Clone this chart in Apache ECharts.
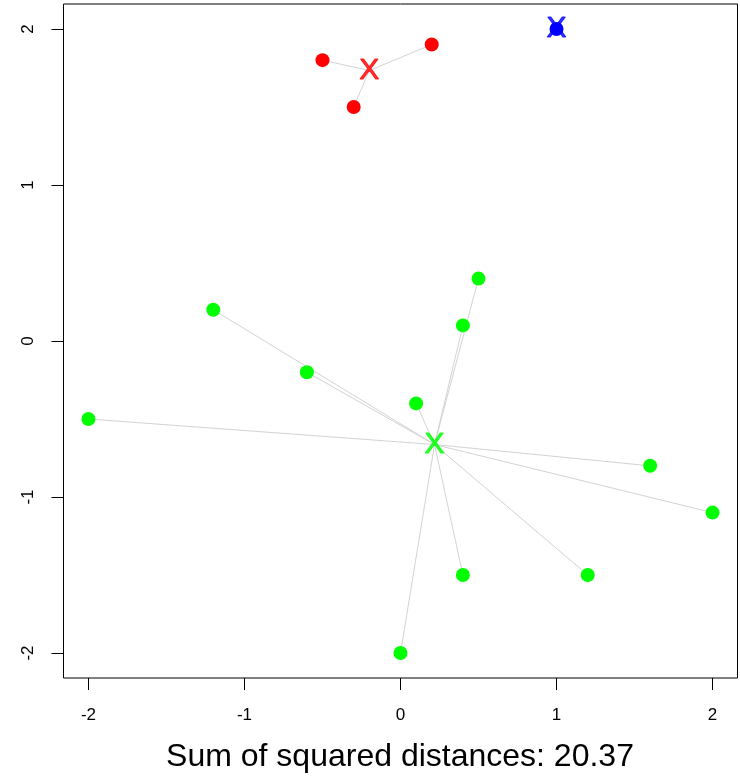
<!DOCTYPE html>
<html>
<head>
<meta charset="utf-8">
<script src="https://cdn.jsdelivr.net/npm/echarts@6/dist/echarts.min.js"></script>
<style>html,body{margin:0;padding:0;background:#fff}#c{width:740px;height:781px}</style>
</head>
<body>
<div id="c"></div>
<script>
// Cluster data
const redX = [-0.5, 0.2, -0.3];
const redY = [1.8, 1.9, 1.5];
const blueX = [1];
const blueY = [2];
const greenX = [-1.2, -0.6, -2, 0.1, 0.5, 0.4, 1.6, 2, 0.4, 1.2, 0];
const greenY = [0.2, -0.2, -0.5, -0.4, 0.4, 0.1, -0.8, -1.1, -1.5, -1.5, -2];
const tickValues = [-2, -1, 0, 1, 2];
const titleText = 'Sum of squared distances: 20.37';

const clusters = [
  { xs: redX, ys: redY, color: '#FF0000' },
  { xs: blueX, ys: blueY, color: '#0000FF' },
  { xs: greenX, ys: greenY, color: '#00FF00' }
];
const mean = a => a.reduce((s, v) => s + v, 0) / a.length;

const series = [];
// connecting lines
clusters.forEach(c => {
  const cx = mean(c.xs), cy = mean(c.ys);
  c.xs.forEach((x, i) => {
    series.push({
      type: 'line', data: [[x, c.ys[i]], [cx, cy]],
      symbol: 'none', silent: true, z: 1,
      lineStyle: { color: '#d3d3d3', width: 1 }
    });
  });
});
// points
clusters.forEach(c => {
  series.push({
    type: 'scatter', data: c.xs.map((x, i) => [x, c.ys[i]]),
    symbol: 'circle', symbolSize: 14, z: 2,
    itemStyle: { color: c.color, opacity: 1 }
  });
});
// centroid markers
clusters.forEach(c => {
  series.push({
    type: 'scatter', data: [[mean(c.xs), mean(c.ys)]],
    symbolSize: 0, z: 3,
    label: { show: true, position: 'inside', formatter: 'X', color: c.color,
      fontFamily: 'Liberation Sans', fontSize: 30, lineHeight: 30,
      textBorderColor: c.color, textBorderWidth: 1 }
  });
});

const axisCommon = {
  type: 'value', min: -2.16, max: 2.16,
  splitLine: { show: false },
  axisLine: { show: false, onZero: false },
  axisTick: { show: true, length: 12, customValues: tickValues, lineStyle: { color: '#000', width: 1 } },
  axisLabel: { customValues: tickValues, fontFamily: 'Liberation Sans', fontSize: 17, color: '#000' }
};

const chart = echarts.init(document.getElementById('c'));
chart.setOption({
  animation: false,
  backgroundColor: '#fff',
  title: {
    text: titleText, left: 400, top: 741, textAlign: 'center', padding: 0,
    textStyle: { fontFamily: 'Liberation Sans', fontSize: 32, fontWeight: 'normal', color: '#000' }
  },
  grid: { left: 63.5, top: 4, width: 674, height: 674, show: true, borderColor: '#000', borderWidth: 1, backgroundColor: 'transparent' },
  xAxis: Object.assign({}, axisCommon, {
    axisLabel: Object.assign({}, axisCommon.axisLabel, { margin: 29 })
  }),
  yAxis: Object.assign({}, axisCommon, {
    axisLabel: Object.assign({}, axisCommon.axisLabel, { rotate: 90, margin: 27 })
  }),
  series: series
});
</script>
</body>
</html>
